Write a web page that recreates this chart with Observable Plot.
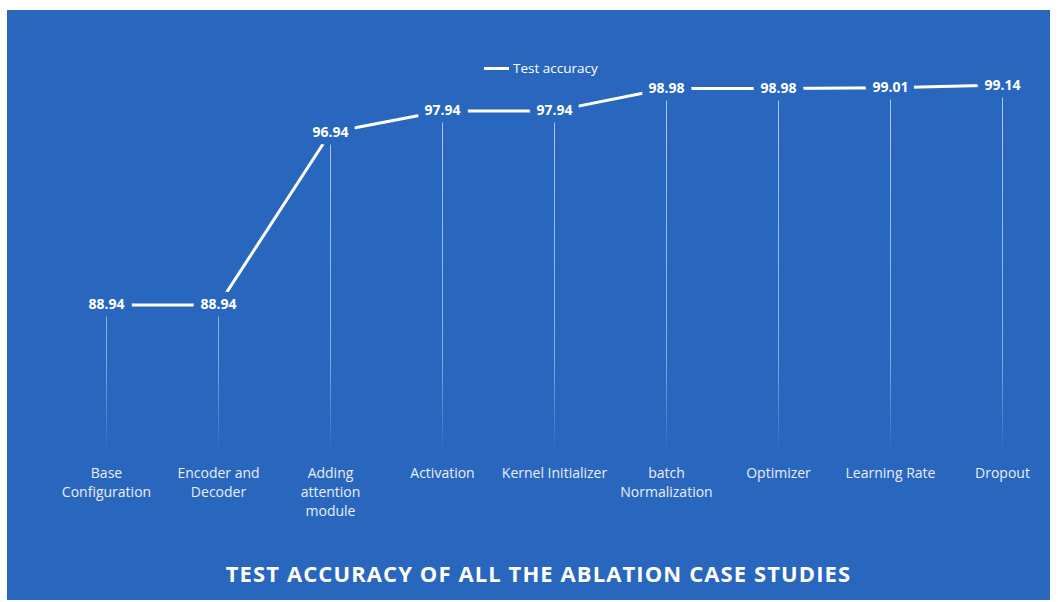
<!DOCTYPE html>
<html>
<head>
<meta charset="utf-8">
<script src="https://cdn.jsdelivr.net/npm/d3@7"></script>
<script src="https://cdn.jsdelivr.net/npm/@observablehq/plot@0.6"></script>
<style>
  body { margin: 0; background: #ffffff; font-family: "Open Sans", sans-serif; }
  #panel { position: absolute; left: 7px; top: 10px; width: 1043px; height: 590px; background: #2967be; overflow: hidden; }
  #chart { position: absolute; left: 0; top: 0; }
  #legend { position: absolute; left: 477px; top: 49px; height: 18px; display: flex; align-items: center; color: #ffffff; font-size: 13.5px; }
  #legend .swatch { width: 25px; height: 3px; background: #ffffff; margin-right: 4px; }
  #title { position: absolute; left: 10px; width: 1043px; top: 549px; text-align: center; color: #ffffff; font-weight: 700; font-size: 22px; letter-spacing: 1.1px; line-height: 29px; }
</style>
</head>
<body>
<div id="panel">
  <div id="chart"></div>
  <div id="legend"><span class="swatch"></span><span id="legend-label"></span></div>
  <div id="title"></div>
</div>
<script>
// Ablation steps, in order, with their multi-line axis labels
const categories = [
  "Base Configuration", "Encoder and Decoder", "Adding attention module",
  "Activation", "Kernel Initializer", "batch Normalization",
  "Optimizer", "Learning Rate", "Dropout"
];
const tickLabels = [
  "Base\nConfiguration", "Encoder and\nDecoder", "Adding\nattention\nmodule",
  "Activation", "Kernel Initializer", "batch\nNormalization",
  "Optimizer", "Learning Rate", "Dropout"
];
// Test accuracy (%) after each step
const testAccuracy = [88.94, 88.94, 96.94, 97.94, 97.94, 98.98, 98.98, 99.01, 99.14];
const seriesName = "Test accuracy";
const chartTitle = "TEST ACCURACY OF ALL THE ABLATION CASE STUDIES";
const yDomain = [82, 100];

const bg = "#2967be";
const rows = categories.map((c, i) => ({category: c, value: testAccuracy[i]}));

const chart = Plot.plot({
  width: 1043,
  height: 530,
  marginLeft: 98,
  marginRight: 47,
  marginTop: 56,
  marginBottom: 86,
  style: {background: "transparent", fontFamily: "Open Sans, sans-serif", overflow: "visible"},
  x: {type: "point", domain: categories, padding: 0, axis: null},
  y: {domain: yDomain, axis: null},
  marks: [
    // drop lines from each point down to the baseline, fading out
    Plot.ruleX(rows, {x: "category", y1: "value", y2: yDomain[0], stroke: "url(#drop-fade)", strokeWidth: 1}),
    Plot.line(rows, {x: "category", y: "value", stroke: "#ffffff", strokeWidth: 3}),
    // value labels, knocked out of the line with a background-coloured halo
    Plot.text(rows, {
      x: "category", y: "value", text: d => d.value.toFixed(2),
      fill: "#ffffff", fontWeight: 700, fontSize: 14,
      stroke: bg, strokeWidth: 15, strokeLinejoin: "round", paintOrder: "stroke"
    }),
    // category labels under the plot area
    Plot.text(categories, {
      x: d => d, text: (d, i) => tickLabels[i],
      frameAnchor: "bottom", lineAnchor: "top", dy: 10, lineHeight: 1.36,
      fill: "#e9eef7", fontSize: 14
    })
  ]
});

// fading gradient for the drop lines, in user space so every rule shares it
const y = chart.scale("y");
const defs = d3.select(chart).insert("defs", ":first-child");
const grad = defs.append("linearGradient")
  .attr("id", "drop-fade")
  .attr("gradientUnits", "userSpaceOnUse")
  .attr("x1", 0).attr("x2", 0)
  .attr("y1", y.apply(99.5)).attr("y2", y.apply(yDomain[0]));
grad.append("stop").attr("offset", 0).attr("stop-color", "#ffffff").attr("stop-opacity", 0.65);
grad.append("stop").attr("offset", 0.75).attr("stop-color", "#ffffff").attr("stop-opacity", 0.45);
grad.append("stop").attr("offset", 1).attr("stop-color", "#ffffff").attr("stop-opacity", 0);

document.getElementById("chart").appendChild(chart);
document.getElementById("legend-label").textContent = seriesName;
document.getElementById("title").textContent = chartTitle;
</script>
</body>
</html>
